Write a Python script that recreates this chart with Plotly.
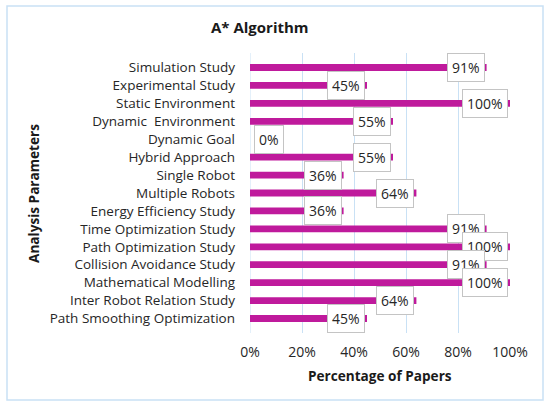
import plotly.graph_objects as go

categories = [
    "Simulation Study", "Experimental Study", "Static Environment",
    "Dynamic  Environment", "Dynamic Goal", "Hybrid Approach", "Single Robot",
    "Multiple Robots", "Energy Efficiency Study", "Time Optimization Study",
    "Path Optimization Study", "Collision Avoidance Study",
    "Mathematical Modelling", "Inter Robot Relation Study",
    "Path Smoothing Optimization",
]
values = [91, 45, 100, 55, 0, 55, 36, 64, 36, 91, 100, 91, 100, 64, 45]
tick_vals = [0, 20, 40, 60, 80, 100]
tick_text = ["0%", "20%", "40%", "60%", "80%", "100%"]

FONT = "Open Sans"
bar_color = "#BF1A9C"
grid_color = "#C9E1F5"

# plot area in pixels
L, R, T, B = 250, 510, 53, 333
W, H = R - L, B - T

def px(x):
    return (x - L) / W

def py(y):
    return (B - y) / H

fig = go.Figure()
fig.add_trace(go.Bar(
    x=values, y=categories, orientation="h",
    marker=dict(color=bar_color, line=dict(width=0)),
    width=0.38, hoverinfo="skip",
))

annotations = []
for c, v in zip(categories, values):
    common = dict(x=v, y=c, xref="x", yref="y", text=f"{v}%", showarrow=False,
                  font=dict(family=FONT, size=14, color="#262626"),
                  bgcolor="white", bordercolor="#C4C4C4", borderwidth=1,
                  borderpad=4)
    if v == 0:
        annotations.append(dict(xanchor="left", xshift=4, **common))
    else:
        annotations.append(dict(xanchor="right", xshift=-2, **common))

annotations.append(dict(text="<b>A* Algorithm</b>", xref="paper", yref="paper",
                        x=px(260), y=py(27), xanchor="center", yanchor="middle",
                        showarrow=False,
                        font=dict(family=FONT, size=15, color="#1a1a1a")))
annotations.append(dict(text="<b>Percentage of Papers</b>", xref="paper",
                        yref="paper", x=px(380), y=py(375), xanchor="center",
                        yanchor="middle", showarrow=False,
                        font=dict(family=FONT, size=13.6, color="#1a1a1a")))
annotations.append(dict(text="<b>Analysis Parameters</b>", xref="paper",
                        yref="paper", x=px(33), y=py(194), xanchor="center",
                        yanchor="middle", showarrow=False, textangle=-90,
                        font=dict(family=FONT, size=13.6, color="#1a1a1a")))

fig.update_layout(
    width=550, height=407,
    margin=dict(l=L, r=550 - R, t=T, b=407 - B, autoexpand=False),
    paper_bgcolor="white", plot_bgcolor="white",
    showlegend=False,
    annotations=annotations,
    xaxis=dict(range=[0, 100], tickvals=tick_vals, ticktext=tick_text,
               showgrid=True, gridcolor=grid_color, gridwidth=1,
               zeroline=False, showline=False, ticks="",
               tickfont=dict(family=FONT, size=14, color="#262626"),
               ticklabelstandoff=9, automargin=False, fixedrange=True),
    yaxis=dict(autorange="reversed", showgrid=False, showline=False,
               ticks="", ticklabelstandoff=14, automargin=False,
               tickfont=dict(family=FONT, size=13.5, color="#262626"),
               fixedrange=True),
    shapes=[
        dict(type="rect", xref="paper", yref="paper",
             x0=px(7), x1=px(543), y0=py(400), y1=py(6),
             line=dict(color="#C9E1F5", width=1.5), layer="below"),
        dict(type="line", xref="x", yref="paper", x0=0, x1=0, y0=0, y1=1,
             line=dict(color=grid_color, width=1), layer="below"),
    ],
)

fig.write_html("out.html", config={"displayModeBar": False},
               post_script="document.body.style.margin='0';")
